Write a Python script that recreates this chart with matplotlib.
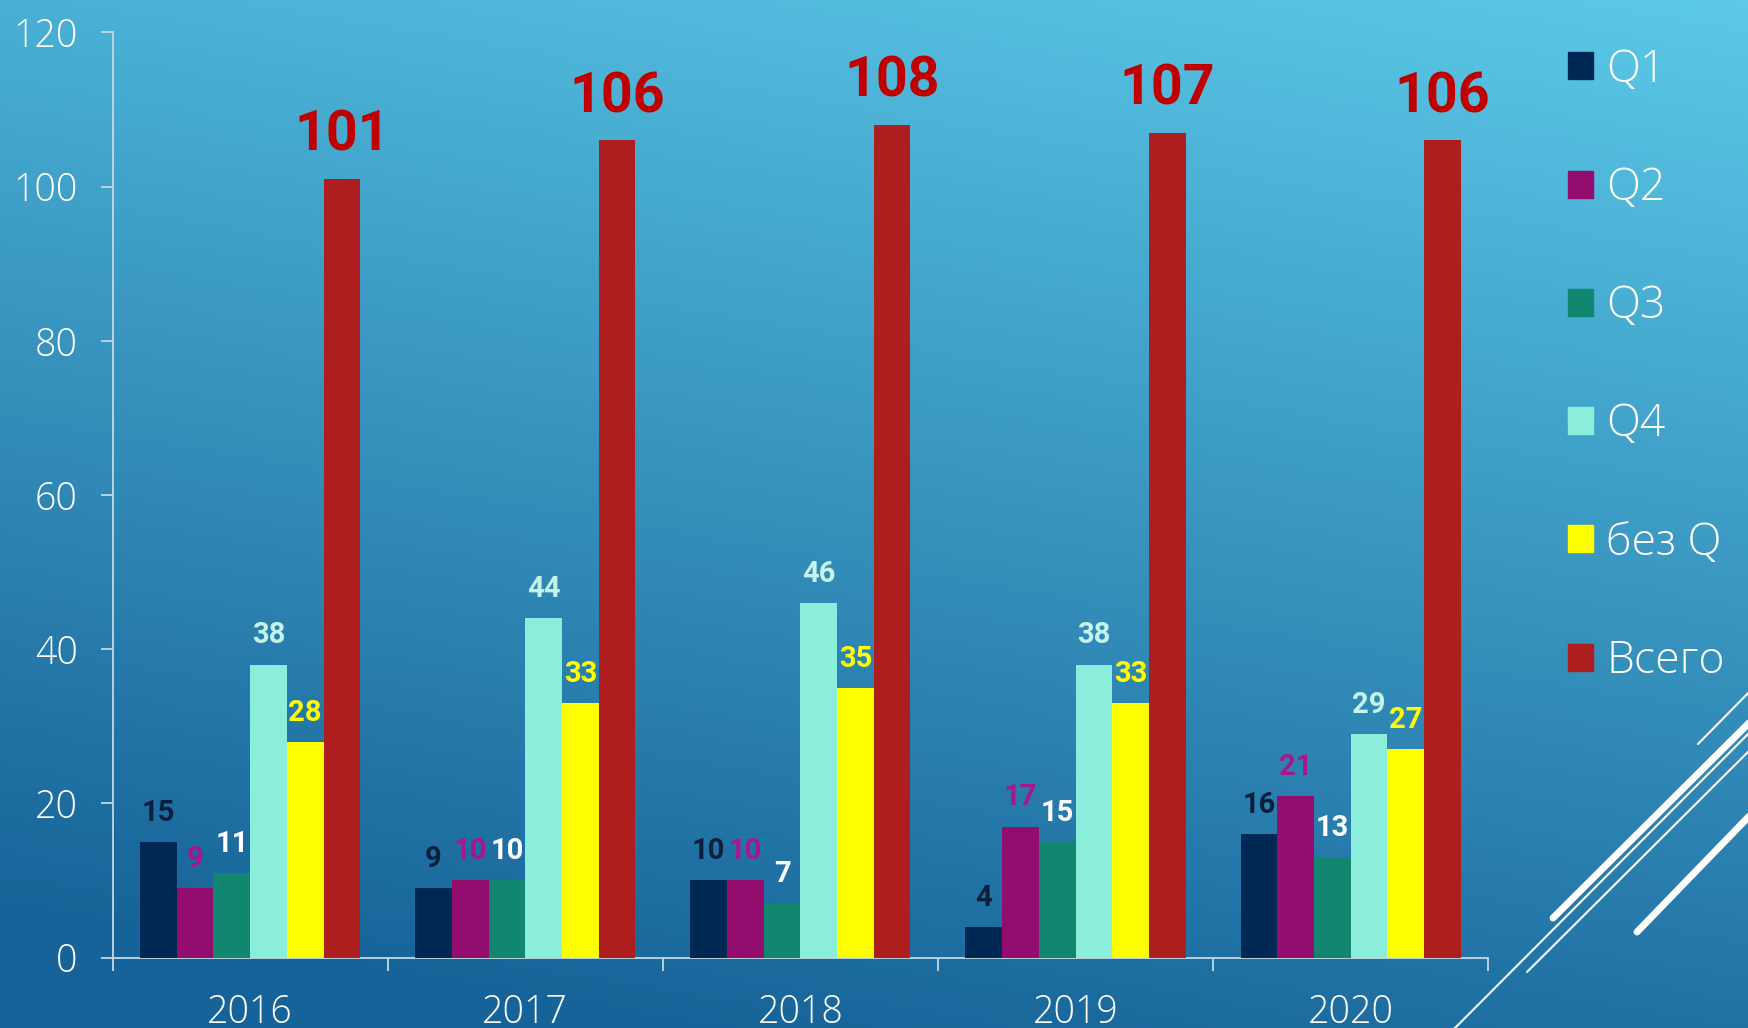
import numpy as np
import matplotlib
matplotlib.use("Agg")
import matplotlib.pyplot as plt
from matplotlib.patches import Patch
from matplotlib.lines import Line2D

# data
years = ["2016", "2017", "2018", "2019", "2020"]
series_names = ["Q1", "Q2", "Q3", "Q4", "без Q", "Всего"]
q1 = [15, 9, 10, 4, 16]
q2 = [9, 10, 10, 17, 21]
q3 = [11, 10, 7, 15, 13]
q4 = [38, 44, 46, 38, 29]
no_q = [28, 33, 35, 33, 27]
total = [101, 106, 108, 107, 106]
y_ticks = [0, 20, 40, 60, 80, 100, 120]

bar_colors = ["#002855", "#920D6E", "#12876F", "#8AEEDA", "#FFFF00", "#AE1E1E"]
label_colors = ["#0A1F3C", "#A8168C", "#FFFFFF", "#C6F4EC", "#FFFF00", "#C00000"]

W, H = 1748, 1028
fig = plt.figure(figsize=(W / 100, H / 100), dpi=100)

# gradient background
bg = fig.add_axes([0, 0, 1, 1], zorder=-10)
u = np.linspace(0, 1, 400)[None, :]
v = np.linspace(0, 1, 240)[:, None]
t = np.clip(0.85 * v + 0.25 * (1 - u), 0, 1)
light = np.array([0.36, 0.79, 0.91])
dark = np.array([0.09, 0.39, 0.60])
img = light[None, None, :] * (1 - t[..., None]) + dark[None, None, :] * t[..., None]
bg.imshow(img, aspect="auto", extent=[0, 1, 0, 1], origin="upper")
bg.set_axis_off()

# decorative diagonal lines, bottom right (figure pixels)
deco = [((1698, 744), (1760, 681), 1.5),
        ((1553, 918), (1760, 712), 5.0),
        ((1453, 1030), (1760, 722), 1.5),
        ((1527, 972), (1760, 740), 1.5),
        ((1637, 932), (1760, 805), 5.0)]
for (x0, y0), (x1, y1), lw in deco:
    fig.add_artist(Line2D([x0 / W, x1 / W], [1 - y0 / H, 1 - y1 / H],
                          transform=fig.transFigure, color="white",
                          lw=lw, solid_capstyle="round"))

ax = fig.add_axes([0.0644, 0.0685, 0.787, 0.900])
ax.patch.set_alpha(0)

all_series = [q1, q2, q3, q4, no_q, total]
x = np.arange(len(years))
bw = 0.8 / len(all_series)
for i, vals in enumerate(all_series):
    pos = x - 0.4 + bw * (i + 0.5)
    ax.bar(pos, vals, width=bw, color=bar_colors[i], label=series_names[i], zorder=3)
    big = i == len(all_series) - 1
    for px, val in zip(pos, vals):
        ax.annotate(str(val), (px, val), xytext=(0, 31 if big else 21),
                    textcoords="offset points", ha="center", va="center",
                    color=label_colors[i], fontsize=40 if big else 21,
                    fontweight="bold", family=["Roboto", "DejaVu Sans"], zorder=4)

ax.set_xlim(-0.5, len(years) - 0.5)
ax.set_ylim(0, 120)
ax.set_yticks(y_ticks)
ax.set_xticks(x)
ax.set_xticklabels(years)
ax.set_xticks(np.arange(-0.5, len(years)), minor=True)

spine_col = "#C3D9E4"
for s in ["top", "right"]:
    ax.spines[s].set_visible(False)
for s in ["left", "bottom"]:
    ax.spines[s].set_color(spine_col)
    ax.spines[s].set_linewidth(1.3)

ax.tick_params(axis="y", length=9, width=1.3, color=spine_col, pad=16,
               labelcolor="white", labelsize=27)
ax.tick_params(axis="x", which="major", length=0, pad=26,
               labelcolor="white", labelsize=27)
ax.tick_params(axis="x", which="minor", length=9, width=1.3, color=spine_col)
for lab in ax.get_xticklabels() + ax.get_yticklabels():
    lab.set_family(["Open Sans", "DejaVu Sans"])
    lab.set_fontweight("light")

handles = [Patch(color=c) for c in bar_colors]
leg = fig.legend(handles, series_names, loc="upper left",
                 bbox_to_anchor=(1568 / W, 1 - 48 / H), frameon=False,
                 prop={"family": ["Open Sans", "DejaVu Sans"], "size": 32, "weight": "light"},
                 handlelength=0.56, handleheight=0.56, handletextpad=0.3,
                 labelspacing=1.66, borderaxespad=0, borderpad=0)
for txt in leg.get_texts():
    txt.set_color("white")

fig.savefig("out.png", dpi=100)
